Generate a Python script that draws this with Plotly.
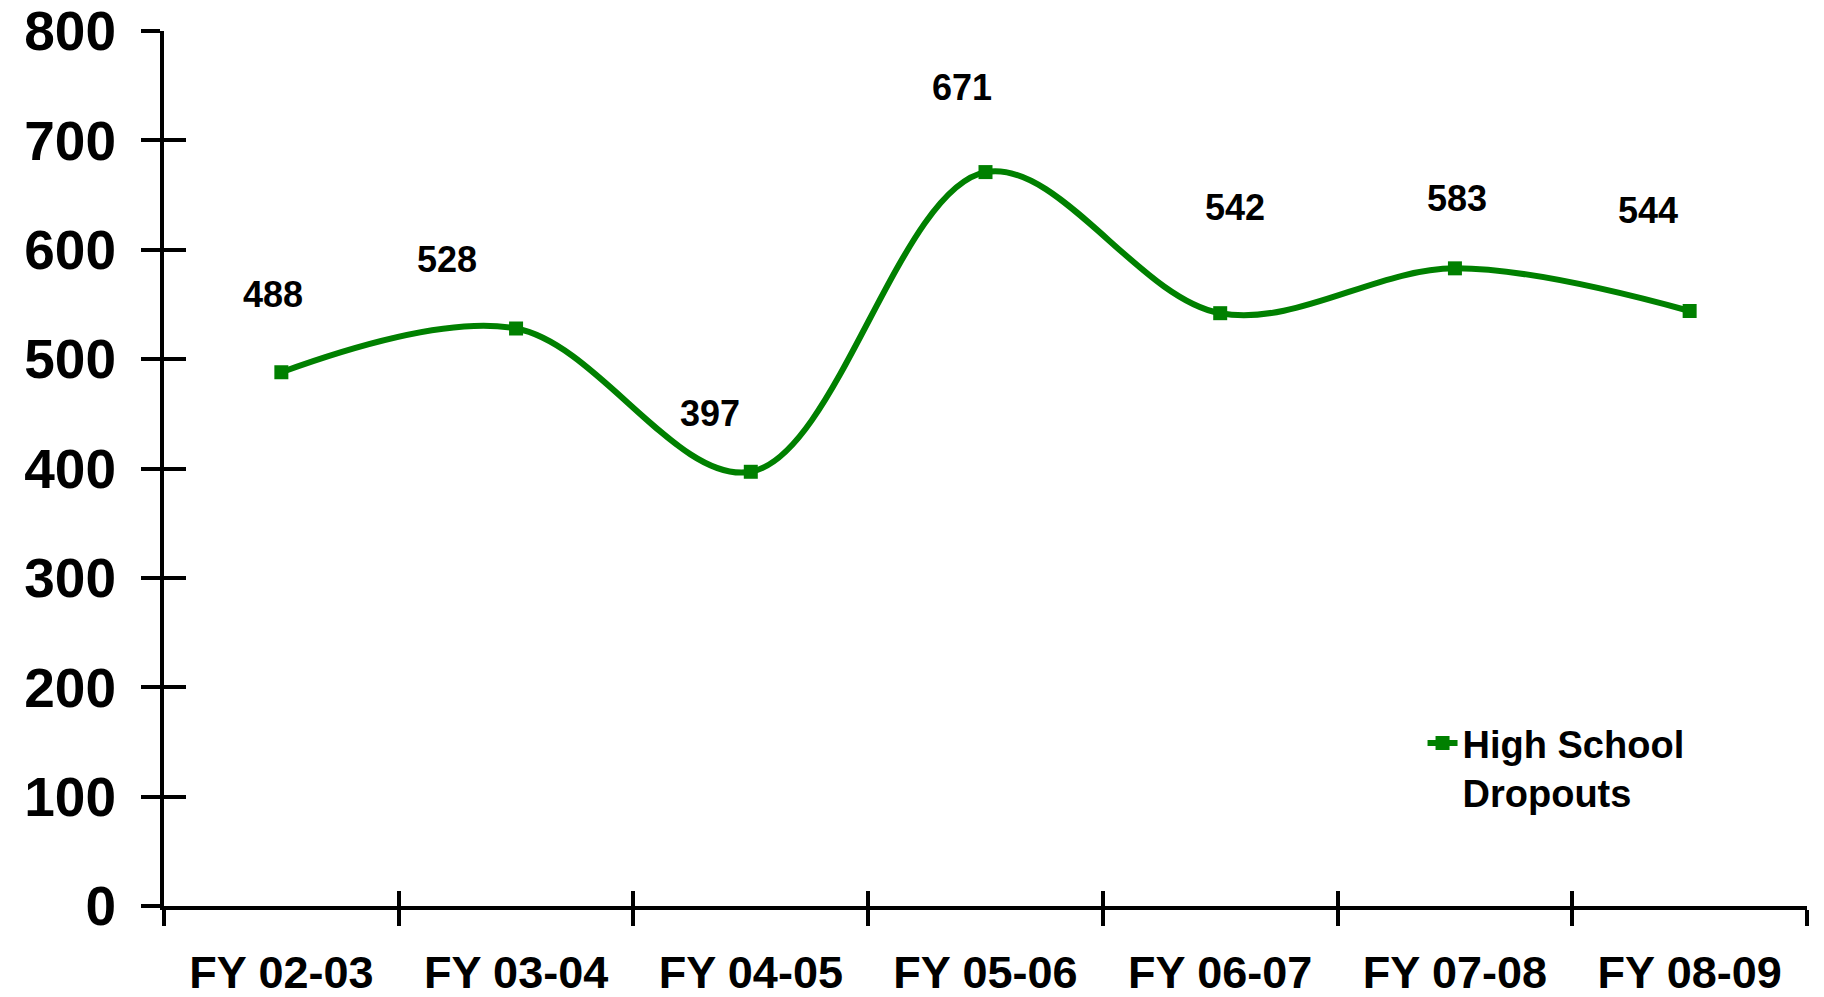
import plotly.graph_objects as go

categories = ["FY 02-03", "FY 03-04", "FY 04-05", "FY 05-06", "FY 06-07", "FY 07-08", "FY 08-09"]
dropouts = [488, 528, 397, 671, 542, 583, 544]
series_name = "High School<br>Dropouts"
y_ticks = [0, 100, 200, 300, 400, 500, 600, 700, 800]

# label offsets in pixels (style only)
label_dx = [-8, -69, -41, -24, 15, 2, -42]
label_dy = [78, 69, 58, 85, 106, 70, 101]

FONT = "Liberation Sans, Arial, sans-serif"
GREEN = "#008000"

fig = go.Figure()
fig.add_trace(go.Scatter(
    x=categories, y=dropouts, name=series_name, mode="lines+markers",
    line=dict(color=GREEN, width=6, shape="spline", smoothing=1.0),
    marker=dict(symbol="square", size=14, color=GREEN),
    hoverinfo="x+y",
))
# empty helper trace so the overlay axes (inner tick halves) are drawn
fig.add_trace(go.Scatter(x=[None], y=[None], xaxis="x2", yaxis="y2",
                         showlegend=False, hoverinfo="skip", mode="lines"))

for c, v, dx, dy in zip(categories, dropouts, label_dx, label_dy):
    fig.add_annotation(x=c, y=v, text=str(v), showarrow=False,
                       xshift=dx, yshift=dy,
                       font=dict(family=FONT, size=36, color="black", weight="bold"))

fig.update_layout(
    width=1824, height=997,
    margin=dict(l=164, r=17, t=31, b=91, autoexpand=False),
    paper_bgcolor="white", plot_bgcolor="white",
    showlegend=True,
    legend=dict(x=0.766, y=0.222, xanchor="left", yanchor="top",
                valign="top", bgcolor="rgba(0,0,0,0)",
                font=dict(family=FONT, size=38, color="black", weight="bold")),
    xaxis=dict(type="category", range=[-0.5, 6.5], tickson="boundaries",
               showline=True, linecolor="black", linewidth=4,
               ticks="outside", ticklen=16, tickwidth=4, tickcolor="black",
               showgrid=False, zeroline=False, ticklabelstandoff=24,
               tickfont=dict(family=FONT, size=45, color="black", weight="bold")),
    yaxis=dict(range=[0, 800], tickvals=y_ticks,
               showline=True, linecolor="black", linewidth=4,
               ticks="outside", ticklen=19, tickwidth=4, tickcolor="black",
               showgrid=False, zeroline=False, ticklabelstandoff=14,
               tickfont=dict(family=FONT, size=55, color="black", weight="bold")),
    xaxis2=dict(overlaying="x", anchor="y", side="bottom", range=[-0.5, 6.5],
                tickvals=[-0.5, 0.5, 1.5, 2.5, 3.5, 4.5, 5.5, 6.5],
                showticklabels=False, showline=False, showgrid=False, zeroline=False,
                ticks="inside", ticklen=15, tickwidth=4, tickcolor="black"),
    yaxis2=dict(overlaying="y", anchor="x", side="left", range=[0, 800], tickvals=y_ticks,
                showticklabels=False, showline=False, showgrid=False, zeroline=False,
                ticks="inside", ticklen=22, tickwidth=4, tickcolor="black"),
)

fig.write_html("out.html", config={"displayModeBar": False},
               post_script="document.body.style.margin='0';")
